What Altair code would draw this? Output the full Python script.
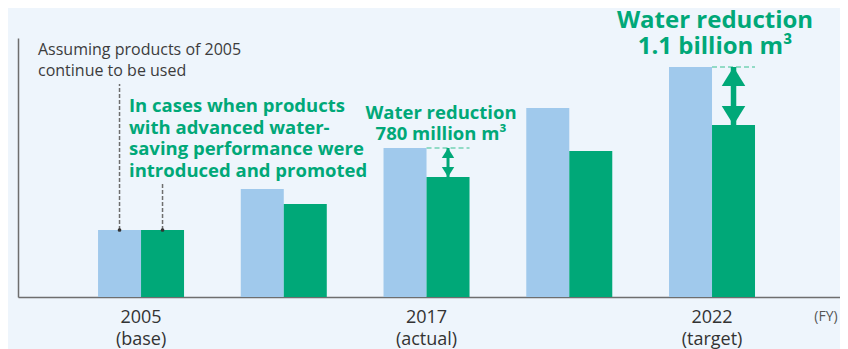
import altair as alt
import pandas as pd

# ---------------- data ----------------
groups = ["2005", "mid-1", "2017", "mid-2", "2022"]
axis_years = ["2005", "", "2017", "", "2022"]
axis_notes = ["(base)", "", "(actual)", "", "(target)"]
series = ["Assuming products of 2005 continue to be used",
          "Products with advanced water-saving performance"]
assumed_2005 = [67, 108, 149, 189, 230]
advanced = [67, 93, 120, 146, 172]
reduction_groups = ["2017", "2022"]
reduction_labels = ["Water reduction\n780 million m³", "Water reduction\n1.1 billion m³"]
note_assumed = "Assuming products of 2005\ncontinue to be used"
note_advanced = "In cases when products\nwith advanced water-\nsaving performance were\nintroduced and promoted"
fy_label = "(FY)"

# ---------------- style ----------------
BG = "#EEF5FC"
BLUE = "#A0C9EC"
GREEN = "#00A878"
LIGHT_GREEN = "#74D2B4"
GREY = "#3C3C3C"
FONT = "Open Sans"

W, H = 822, 259
P_IN, P_OUT, ALIGN = 0.3975, 0.578, 0.485

bars_df = pd.DataFrame({
    "group": groups * 2,
    "series": [series[0]] * len(groups) + [series[1]] * len(groups),
    "value": assumed_2005 + advanced,
})

red_df = pd.DataFrame({
    "group": reduction_groups,
    "series": [series[1]] * len(reduction_groups),
    "top": [assumed_2005[groups.index(g)] for g in reduction_groups],
    "bottom": [advanced[groups.index(g)] for g in reduction_groups],
    "label": reduction_labels,
})

labels_df = pd.DataFrame({
    "group": groups,
    "label": [y + "\n" + n if y else "" for y, n in zip(axis_years, axis_notes)],
})

x_scale = alt.Scale(domain=groups, paddingInner=P_IN, paddingOuter=P_OUT, align=ALIGN)
y_scale = alt.Scale(domain=[0, H], nice=False, zero=True)
off_scale = alt.Scale(domain=series, paddingInner=0, paddingOuter=0)

X = alt.X("group:N", scale=x_scale, sort=None,
          axis=alt.Axis(labels=False, ticks=False, title=None, domainColor="#6E6E6E", domainWidth=1.5))
XO = alt.XOffset("series:N", scale=off_scale)

bars = alt.Chart(bars_df).mark_bar(strokeWidth=0).encode(
    x=X, xOffset=XO,
    y=alt.Y("value:Q", scale=y_scale,
            axis=alt.Axis(labels=False, ticks=False, grid=False, title=None,
                          domainColor="#6E6E6E", domainWidth=1.5)),
    color=alt.Color("series:N", scale=alt.Scale(domain=series, range=[BLUE, GREEN]), legend=None),
)

base_2005 = alt.Chart(bars_df).transform_filter(alt.datum.group == groups[0])
lead1 = base_2005.transform_filter(alt.datum.series == series[0]).mark_rule(
    color="#6E6E6E", strokeWidth=1.5, strokeDash=[4, 2]).encode(
    x=X, xOffset=XO, y=alt.Y("value:Q", scale=y_scale), y2=alt.value(46))
lead2 = base_2005.transform_filter(alt.datum.series == series[1]).mark_rule(
    color="#6E6E6E", strokeWidth=1.5, strokeDash=[4, 2]).encode(
    x=X, xOffset=XO, y=alt.Y("value:Q", scale=y_scale), y2=alt.value(146))
dots = base_2005.mark_point(filled=True, size=14, color="#333333", opacity=1).encode(
    x=X, xOffset=XO, y=alt.Y("value:Q", scale=y_scale))

# band geometry derived from the scale parameters (for the dashed level lines)
n = len(groups)
step = W / (n - P_IN + 2 * P_OUT)
start = (W - step * (n - P_IN)) * ALIGN
bw = step * (1 - P_IN)

level_layers = []
for g in reduction_groups:
    i = groups.index(g)
    x0 = start + i * step + bw / 2
    x1 = start + i * step + bw
    level_layers.append(
        alt.Chart(red_df).transform_filter(alt.datum.group == g).mark_rule(
            color=LIGHT_GREEN, strokeWidth=1.5, strokeDash=[5, 3]).encode(
            x=alt.value(x0), x2=alt.value(x1), y=alt.Y("top:Q", scale=y_scale))
    )

UP = "M0,0L0.62,1L-0.62,1Z"
DOWN = "M0,0L0.62,-1L-0.62,-1Z"
arrow_layers = []
for g, shaft, size in zip(reduction_groups, [3, 5.5], [400, 1444]):
    a = alt.Chart(red_df).transform_filter(alt.datum.group == g)
    arrow_layers.append(a.mark_rule(color=GREEN, strokeWidth=shaft).encode(
        x=X, xOffset=XO, y=alt.Y("top:Q", scale=y_scale), y2="bottom:Q"))
    arrow_layers.append(a.mark_point(shape=UP, filled=True, size=size, color=GREEN, opacity=1, strokeWidth=0).encode(
        x=X, xOffset=XO, y=alt.Y("top:Q", scale=y_scale)))
    arrow_layers.append(a.mark_point(shape=DOWN, filled=True, size=size, color=GREEN, opacity=1, strokeWidth=0).encode(
        x=X, xOffset=XO, y=alt.Y("bottom:Q", scale=y_scale)))

red_text_1 = alt.Chart(red_df).transform_filter(alt.datum.group == reduction_groups[0]).mark_text(
    font=FONT, fontWeight="bold", fontSize=18.5, color=GREEN, align="center",
    baseline="alphabetic", lineBreak="\n", lineHeight=21).encode(
    x=alt.value(423), y=alt.value(81), text="label:N")
red_text_2 = alt.Chart(red_df).transform_filter(alt.datum.group == reduction_groups[1]).mark_text(
    font=FONT, fontWeight="bold", fontSize=24, color=GREEN, align="center",
    baseline="alphabetic", lineBreak="\n", lineHeight=26).encode(
    x=alt.value(697), y=alt.value(-10), text="label:N")

note1 = alt.Chart(pd.DataFrame({"t": [note_assumed]})).mark_text(
    font=FONT, fontSize=16, color=GREY, align="left", baseline="alphabetic",
    lineBreak="\n", lineHeight=21).encode(x=alt.value(20), y=alt.value(17), text="t:N")
note2 = alt.Chart(pd.DataFrame({"t": [note_advanced]})).mark_text(
    font=FONT, fontWeight="bold", fontSize=18.5, color=GREEN, align="left", baseline="alphabetic",
    lineBreak="\n", lineHeight=21.7).encode(x=alt.value(111), y=alt.value(74), text="t:N")

xlabels = alt.Chart(labels_df).mark_text(
    font=FONT, fontSize=18, color="#333333", align="center", baseline="alphabetic",
    lineBreak="\n", lineHeight=22).encode(x=X, y=alt.value(H + 26), text="label:N")
fy = alt.Chart(pd.DataFrame({"t": [fy_label]})).mark_text(
    font=FONT, fontSize=14, color="#555555", align="center", baseline="alphabetic").encode(
    x=alt.value(808), y=alt.value(H + 24), text="t:N")

chart = alt.layer(
    bars, lead1, lead2, dots, *level_layers, *arrow_layers,
    red_text_1, red_text_2, note1, note2, xlabels, fy,
).properties(
    width=W, height=H,
    padding={"left": 10, "top": 30, "right": 0, "bottom": 52},
    autosize=alt.AutoSizeParams(type="none"),
    background=BG,
).configure_view(stroke=None)

chart.save("out.html", embed_options={"renderer": "svg", "actions": False})
